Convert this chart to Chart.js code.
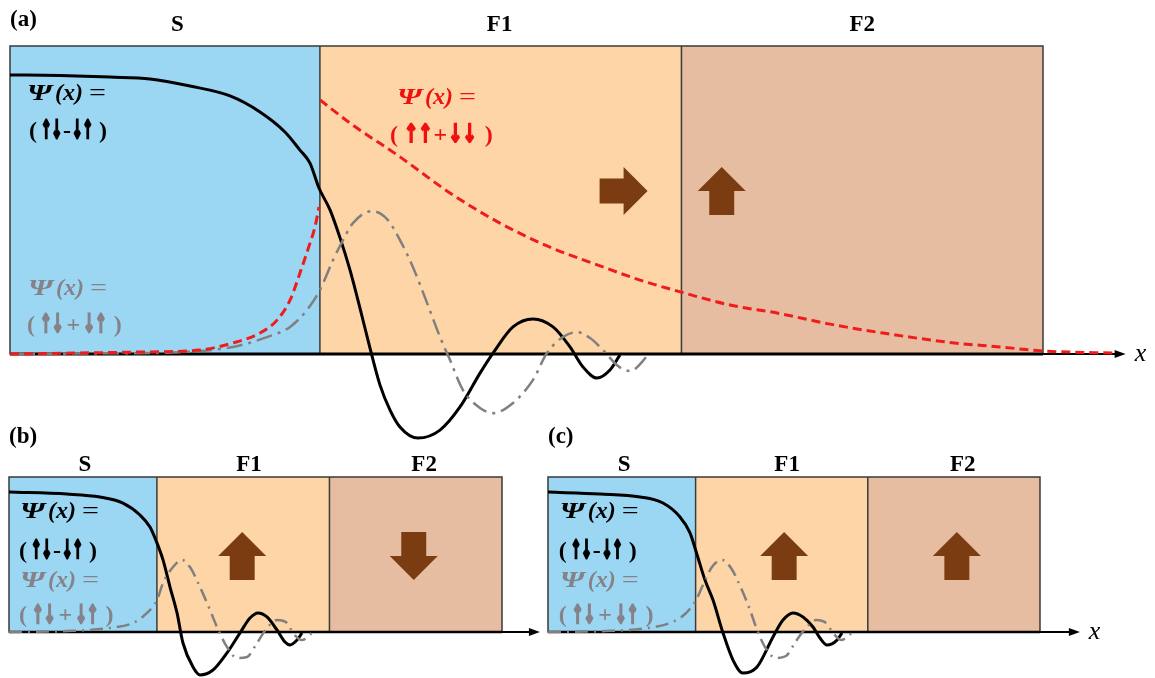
<!DOCTYPE html>
<html><head><meta charset="utf-8">
<script src="https://cdn.jsdelivr.net/npm/chart.js@4.4.0/dist/chart.umd.min.js"></script>
<style>
html,body{margin:0;padding:0;background:#fff;width:1155px;height:678px;overflow:hidden;}
canvas{position:absolute;left:0;top:0;}
</style></head><body>
<canvas id="ca" width="1155" height="678"></canvas>
<canvas id="cb" width="1155" height="678"></canvas>
<canvas id="cc" width="1155" height="678"></canvas>
<script>
// ---------- data ----------
const regions = ['S', 'F1', 'F2'];
const regionEdges = [0, 3, 6.5, 10];
const regionColors = ['#9bd7f2', '#fdd5a6', '#e7bda1'];

const titleXa = [1.62, 4.74, 8.25];
const titleXb = [1.54, 4.87, 8.42];
const titleXc = [1.55, 4.86, 8.43];

// panel (a) curves (x: position, y: amplitude)
const aBlackX = [0, 0.484, 0.968, 1.355, 1.742, 2.130, 2.420, 2.662, 2.807, 2.904, 2.991, 3.098, 3.195, 3.291, 3.388, 3.485, 3.582, 3.679, 3.775, 3.950, 4.163, 4.356, 4.550, 4.676, 4.869, 5.063, 5.257, 5.421, 5.547, 5.682, 5.808, 5.905];
const aBlackY = [0.906, 0.904, 0.899, 0.893, 0.870, 0.838, 0.786, 0.721, 0.662, 0.620, 0.539, 0.468, 0.377, 0.273, 0.149, 0.019, -0.101, -0.182, -0.237, -0.273, -0.247, -0.172, -0.062, 0.003, 0.088, 0.114, 0.088, 0.023, -0.042, -0.078, -0.052, -0.003];

const aGrayX = [0, 0.871, 1.646, 2.159, 2.488, 2.711, 2.875, 3.001, 3.127, 3.224, 3.320, 3.504, 3.650, 3.775, 3.901, 4.037, 4.163, 4.259, 4.385, 4.550, 4.676, 4.869, 5.063, 5.198, 5.353, 5.489, 5.615, 5.740, 5.886, 6.002, 6.196];
const aGrayY = [0, 0.002, 0.006, 0.023, 0.055, 0.088, 0.143, 0.208, 0.305, 0.370, 0.425, 0.464, 0.438, 0.370, 0.282, 0.166, 0.055, -0.019, -0.117, -0.175, -0.192, -0.159, -0.084, 0.003, 0.055, 0.071, 0.052, 0.013, -0.039, -0.055, 0.003];

const aRedSX = [0, 1.191, 1.839, 2.159, 2.420, 2.585, 2.711, 2.807, 2.904, 2.952, 2.991];
const aRedSY = [0, 0.006, 0.013, 0.036, 0.068, 0.110, 0.175, 0.263, 0.360, 0.412, 0.477];
const aRedFX = [3.001, 3.291, 3.775, 4.259, 4.743, 5.227, 5.712, 6.099, 6.496, 6.970, 7.425, 7.938, 8.451, 9.139, 9.584, 9.990, 10.678];
const aRedFY = [0.825, 0.750, 0.640, 0.523, 0.425, 0.347, 0.286, 0.240, 0.201, 0.159, 0.133, 0.097, 0.068, 0.036, 0.023, 0.010, 0.003];

// panel (b) curves
const bBlackX = [0, 1.176, 1.846, 2.312, 2.657, 2.860, 3.002, 3.124, 3.266, 3.408, 3.529, 3.732, 3.874, 4.138, 4.422, 4.686, 4.888, 5.051, 5.233, 5.436, 5.598, 5.700, 5.842, 5.943];
const bBlackY = [0.903, 0.890, 0.871, 0.832, 0.755, 0.677, 0.574, 0.465, 0.290, 0.123, -0.071, -0.226, -0.277, -0.245, -0.135, -0.006, 0.090, 0.123, 0.097, 0.013, -0.065, -0.084, -0.052, -0.006];
const bGrayX = [0, 1.176, 2.049, 2.515, 2.799, 3.002, 3.124, 3.327, 3.509, 3.671, 3.874, 4.077, 4.219, 4.422, 4.625, 4.828, 5.030, 5.233, 5.436, 5.639, 5.761, 5.943, 6.166];
const bGrayY = [0, 0.006, 0.026, 0.058, 0.123, 0.206, 0.316, 0.419, 0.465, 0.419, 0.290, 0.142, 0.032, -0.097, -0.168, -0.161, -0.071, 0.026, 0.077, 0.058, -0.006, -0.052, 0];

// panel (c) curves
const cBlackX = [0, 1.057, 1.870, 2.337, 2.683, 2.886, 3.028, 3.191, 3.354, 3.557, 3.760, 3.963, 4.248, 4.573, 4.776, 4.980, 5.183, 5.386, 5.528, 5.671, 5.874, 5.976];
const cBlackY = [0.903, 0.890, 0.871, 0.832, 0.742, 0.640, 0.500, 0.335, 0.206, -0.006, -0.181, -0.265, -0.226, -0.032, 0.077, 0.123, 0.097, 0.032, -0.039, -0.084, -0.052, -0.006];
const cGrayX = [0, 1.159, 2.033, 2.480, 2.785, 3.008, 3.150, 3.333, 3.537, 3.720, 3.923, 4.106, 4.228, 4.411, 4.634, 4.837, 5.041, 5.244, 5.447, 5.650, 5.793, 5.955, 6.199];
const cGrayY = [0, 0.006, 0.026, 0.058, 0.116, 0.206, 0.303, 0.419, 0.465, 0.413, 0.284, 0.142, 0.032, -0.097, -0.168, -0.155, -0.058, 0.026, 0.077, 0.058, -0.006, -0.052, 0];

// magnetisation arrows
const aMagX = [5.94, 6.89], aMagY = [0.529, 0.529], aMagDir = ['right', 'up'];
const bMagX = [4.73, 8.21], bMagY = [0.49, 0.49], bMagDir = ['up', 'down'];
const cMagX = [4.80, 8.31], cMagY = [0.49, 0.49], cMagDir = ['up', 'up'];

// text: [psi line, spin line black, psi line gray, spin line gray, (red psi, red spin)]
const aTextX = [0.165, 0.184, 0.174, 0.165, 3.746, 3.679];
const aTextY = [0.844, 0.721, 0.211, 0.091, 0.833, 0.708];
const bTextX = [0.223, 0.203, 0.223, 0.203];
const bTextY = [0.777, 0.519, 0.329, 0.103];
const cTextX = [0.24, 0.22, 0.24, 0.22];
const cTextY = [0.777, 0.519, 0.329, 0.103];

// ---------- drawing ----------
const COL = { black: '#000000', gray: '#808080', red: '#f01c1c', brown: '#7b3c12', grayText: '#86828a', redText: '#f01010' };
const LS = '"Liberation Serif", "Times New Roman", serif';
const DJ = '"DejaVu Sans", sans-serif';

function psiPieces() {
  return [
    { t: '\u03A8', f: 'bold italic 24px ' + LS, sx: 1.3, g: 3 },
    { t: '(x)', f: 'bold italic 24px ' + LS, g: 6 },
    { t: '=', f: '24px ' + LS, sx: 1.25 }
  ];
}
function spinPieces(a, op, b, arrowSx, gapIn, gapOut) {
  return [
    { t: '(', f: 'bold 24px ' + LS, g: gapOut },
    { t: a, f: 'bold 25px ' + DJ, sx: arrowSx, g: gapIn, sw: 1.3 },
    { t: op, f: 'bold 24px ' + LS, g: gapIn },
    { t: b, f: 'bold 25px ' + DJ, sx: arrowSx, g: gapOut + 2, sw: 1.3 },
    { t: ')', f: 'bold 24px ' + LS }
  ];
}
const blackSpin = spinPieces('\u2191\u2193', '-', '\u2193\u2191', 0.5, 1, 4);
const graySpin = spinPieces('\u2191\u2193', '+', '\u2193\u2191', 0.56, 3, 5);
const redSpin = spinPieces('\u2191\u2191', '+', '\u2193\u2193', 0.68, 1, 6);

function drawRich(ctx, pieces, x, y, color) {
  let cx = x;
  ctx.fillStyle = color;
  ctx.strokeStyle = color;
  ctx.textAlign = 'left';
  ctx.textBaseline = 'middle';
  pieces.forEach(p => {
    ctx.font = p.f;
    const sx = p.sx || 1;
    const w = ctx.measureText(p.t).width * sx;
    ctx.save();
    ctx.translate(cx, y);
    ctx.scale(sx, 1);
    ctx.fillText(p.t, 0, 0);
    if (p.sw) { ctx.lineWidth = p.sw / sx; ctx.strokeText(p.t, 0, 0); }
    ctx.restore();
    cx += w + (p.g || 0);
  });
}

function pts(xs, ys) { return xs.map((x, i) => ({ x: x, y: ys[i] })); }

function drawMag(ctx, cx, cy, dir, s) {
  const h = s / 2, sw = s * 0.26, hl = s * 0.5;
  ctx.save();
  ctx.translate(cx, cy);
  ctx.rotate({ up: 0, right: Math.PI / 2, down: Math.PI, left: -Math.PI / 2 }[dir]);
  ctx.beginPath();
  ctx.moveTo(0, -h);
  ctx.lineTo(h, -h + hl);
  ctx.lineTo(sw, -h + hl);
  ctx.lineTo(sw, h);
  ctx.lineTo(-sw, h);
  ctx.lineTo(-sw, -h + hl);
  ctx.lineTo(-h, -h + hl);
  ctx.closePath();
  ctx.fillStyle = COL.brown;
  ctx.fill();
  ctx.restore();
}

const decoPlugin = {
  id: 'deco',
  beforeDatasetsDraw(chart, args, o) {
    const ctx = chart.ctx, xs = chart.scales.x, ys = chart.scales.y;
    const top = ys.getPixelForValue(1), bot = ys.getPixelForValue(0);
    const X = v => xs.getPixelForValue(v), Y = v => ys.getPixelForValue(v);
    ctx.save();
    for (let i = 0; i < 3; i++) {
      const x0 = X(regionEdges[i]), x1 = X(regionEdges[i + 1]);
      ctx.fillStyle = regionColors[i];
      ctx.fillRect(x0, top, x1 - x0, bot - top);
    }
    ctx.strokeStyle = '#3a3a3a';
    ctx.lineWidth = 1.5;
    ctx.strokeRect(X(0), top, X(10) - X(0), bot - top);
    for (let i = 1; i < 3; i++) {
      ctx.beginPath(); ctx.moveTo(X(regionEdges[i]), top); ctx.lineTo(X(regionEdges[i]), bot); ctx.stroke();
    }
    // x axis
    ctx.strokeStyle = '#000';
    ctx.lineWidth = o.axisW;
    ctx.beginPath(); ctx.moveTo(X(0), bot); ctx.lineTo(X(10), bot); ctx.stroke();
    const ae = X(o.axisEnd);
    ctx.lineWidth = 2;
    ctx.beginPath(); ctx.moveTo(X(10), bot); ctx.lineTo(ae - 6, bot); ctx.stroke();
    ctx.fillStyle = '#000';
    ctx.beginPath(); ctx.moveTo(ae, bot); ctx.lineTo(ae - 11, bot - 4); ctx.lineTo(ae - 11, bot + 4); ctx.closePath(); ctx.fill();
    if (o.xLabel) {
      ctx.font = 'italic 26px ' + LS;
      ctx.textBaseline = 'middle'; ctx.textAlign = 'left';
      ctx.fillText('x', ae + 9, bot);
    }
    // titles
    ctx.font = 'bold 23px ' + LS;
    ctx.textAlign = 'center'; ctx.textBaseline = 'middle';
    regions.forEach((r, i) => ctx.fillText(r, X(o.titleX[i]), top - o.titleOff));
    ctx.textAlign = 'left';
    ctx.fillText(o.label, X(0), top - o.labelOff);
    // psi texts
    o.lines.forEach((pieces, i) => drawRich(ctx, pieces, X(o.textX[i]), Y(o.textY[i]), o.lineCols[i]));
    // magnetisation arrows
    o.magX.forEach((mx, i) => drawMag(ctx, X(mx), Y(o.magY[i]), o.magDir[i], 48));
    ctx.restore();
  }
};

function lineDs(data, color, width, dash) {
  return {
    data: data, borderColor: color, borderWidth: width, borderDash: dash || [],
    pointRadius: 0, fill: false, clip: false, cubicInterpolationMode: 'monotone',
    borderCapStyle: 'butt'
  };
}

function makeChart(id, pad, datasets, deco) {
  return new Chart(document.getElementById(id), {
    type: 'line',
    data: { datasets: datasets },
    options: {
      responsive: false, animation: false, devicePixelRatio: 1,
      layout: { padding: pad },
      scales: {
        x: { type: 'linear', min: 0, max: 10, display: false },
        y: { type: 'linear', min: 0, max: 1, display: false }
      },
      plugins: { legend: { display: false }, tooltip: { enabled: false }, deco: deco }
    },
    plugins: [decoPlugin]
  });
}

makeChart('ca', { left: 10, right: 112, top: 46, bottom: 324 }, [
  lineDs(pts(aRedSX, aRedSY), COL.red, 3, [9, 5]),
  lineDs(pts(aRedFX, aRedFY), COL.red, 3, [9, 5]),
  lineDs(pts(aGrayX, aGrayY), COL.gray, 2.5, [16, 6, 3, 6]),
  lineDs(pts(aBlackX, aBlackY), COL.black, 3)
], {
  axisW: 3, axisEnd: 10.8, xLabel: true, titleX: titleXa, titleOff: 21, label: '(a)', labelOff: 26,
  lines: [psiPieces(), blackSpin, psiPieces(), graySpin, psiPieces(), redSpin],
  lineCols: [COL.black, COL.black, COL.grayText, COL.grayText, COL.redText, COL.redText],
  textX: aTextX, textY: aTextY, magX: aMagX, magY: aMagY, magDir: aMagDir
});

makeChart('cb', { left: 9, right: 653, top: 477, bottom: 46 }, [
  lineDs(pts(bGrayX, bGrayY), COL.gray, 2.5, [13, 6, 2, 6]),
  lineDs(pts(bBlackX, bBlackY), COL.black, 3)
], {
  axisW: 2.5, axisEnd: 10.77, xLabel: false, titleX: titleXb, titleOff: 12, label: '(b)', labelOff: 40,
  lines: [psiPieces(), blackSpin, psiPieces(), graySpin],
  lineCols: [COL.black, COL.black, COL.grayText, COL.grayText],
  textX: bTextX, textY: bTextY, magX: bMagX, magY: bMagY, magDir: bMagDir
});

makeChart('cc', { left: 548, right: 115, top: 477, bottom: 46 }, [
  lineDs(pts(cGrayX, cGrayY), COL.gray, 2.5, [13, 6, 2, 6]),
  lineDs(pts(cBlackX, cBlackY), COL.black, 3)
], {
  axisW: 2.5, axisEnd: 10.81, xLabel: true, titleX: titleXc, titleOff: 12, label: '(c)', labelOff: 40,
  lines: [psiPieces(), blackSpin, psiPieces(), graySpin],
  lineCols: [COL.black, COL.black, COL.grayText, COL.grayText],
  textX: cTextX, textY: cTextY, magX: cMagX, magY: cMagY, magDir: cMagDir
});
</script>
</body></html>
